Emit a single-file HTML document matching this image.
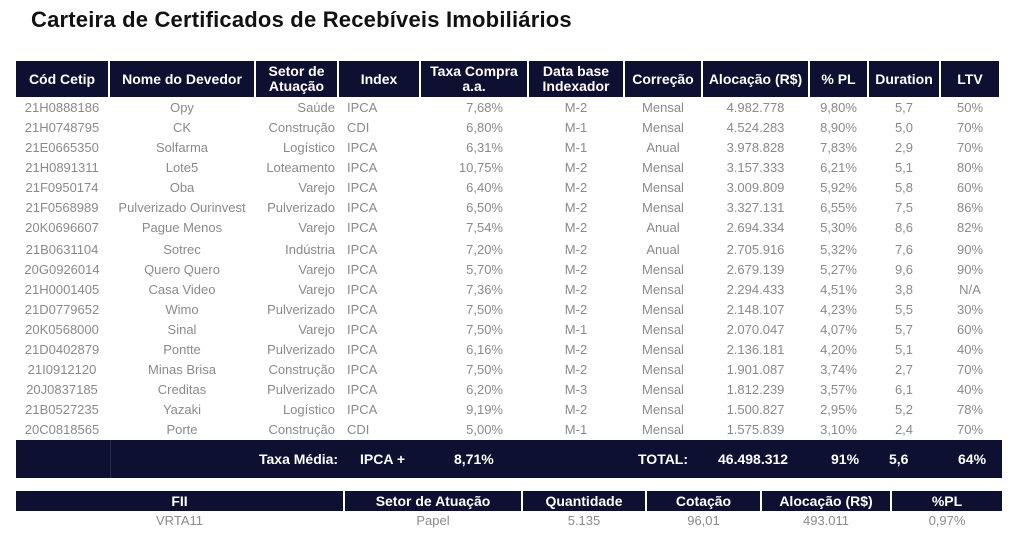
<!DOCTYPE html>
<html><head><meta charset="utf-8"><style>
body{margin:0;width:1024px;height:539px;background:#fff;font-family:"Liberation Sans",sans-serif;position:relative;overflow:hidden}
.t{position:absolute;left:31px;top:7px;font-size:22px;font-weight:bold;color:#111;letter-spacing:0.2px}
.h,.r,.tot{position:absolute;left:16px;display:flex}
.h div{background:#0d1030;color:#fff;font-weight:bold;font-size:14px;display:flex;align-items:center;justify-content:center;text-align:center;line-height:15px;margin-right:2px;box-sizing:border-box}
.r div{color:#8a8a8a;font-size:13px;text-align:center;margin-right:2px;height:20px;line-height:20px;white-space:nowrap;box-sizing:border-box}
.tot{background:#0d1030;top:440px;height:38px;width:986px}
.tot span{position:absolute;top:11px;color:#fff;font-weight:bold;font-size:14px}
</style></head><body>
<div class="t">Carteira de Certificados de Recebíveis Imobiliários</div>
<div id="main"></div>
<div class="tot">
<div style="position:absolute;left:94px;top:0;width:1px;height:38px;background:#2a2d4a"></div>
<span style="left:243px">Taxa Média:</span><span style="left:344px">IPCA +</span><span style="left:438px">8,71%</span>
<span style="left:622px">TOTAL:</span><span style="left:702px">46.498.312</span><span style="left:815px">91%</span><span style="left:873px">5,6</span><span style="left:942px">64%</span>
</div>
<div id="fii"></div>
<script>
const w=[92,144,81,80,106,94,76,105,57,70,58];
const heads=["Cód Cetip","Nome do Devedor","Setor de<br>Atuação","Index","Taxa Compra<br>a.a.","Data base<br>Indexador","Correção","Alocação (R$)","% PL","Duration","LTV"];
const rows=[
["21H0888186","Opy","Saúde","IPCA","7,68%","M-2","Mensal","4.982.778","9,80%","5,7","50%"],
["21H0748795","CK","Construção","CDI","6,80%","M-1","Mensal","4.524.283","8,90%","5,0","70%"],
["21E0665350","Solfarma","Logístico","IPCA","6,31%","M-1","Anual","3.978.828","7,83%","2,9","70%"],
["21H0891311","Lote5","Loteamento","IPCA","10,75%","M-2","Mensal","3.157.333","6,21%","5,1","80%"],
["21F0950174","Oba","Varejo","IPCA","6,40%","M-2","Mensal","3.009.809","5,92%","5,8","60%"],
["21F0568989","Pulverizado Ourinvest","Pulverizado","IPCA","6,50%","M-2","Mensal","3.327.131","6,55%","7,5","86%"],
["20K0696607","Pague Menos","Varejo","IPCA","7,54%","M-2","Anual","2.694.334","5,30%","8,6","82%"],
["21B0631104","Sotrec","Indústria","IPCA","7,20%","M-2","Anual","2.705.916","5,32%","7,6","90%"],
["20G0926014","Quero Quero","Varejo","IPCA","5,70%","M-2","Mensal","2.679.139","5,27%","9,6","90%"],
["21H0001405","Casa Video","Varejo","IPCA","7,36%","M-2","Mensal","2.294.433","4,51%","3,8","N/A"],
["21D0779652","Wimo","Pulverizado","IPCA","7,50%","M-2","Mensal","2.148.107","4,23%","5,5","30%"],
["20K0568000","Sinal","Varejo","IPCA","7,50%","M-1","Mensal","2.070.047","4,07%","5,7","60%"],
["21D0402879","Pontte","Pulverizado","IPCA","6,16%","M-2","Mensal","2.136.181","4,20%","5,1","40%"],
["21I0912120","Minas Brisa","Construção","IPCA","7,50%","M-2","Mensal","1.901.087","3,74%","2,7","70%"],
["20J0837185","Creditas","Pulverizado","IPCA","6,20%","M-3","Mensal","1.812.239","3,57%","6,1","40%"],
["21B0527235","Yazaki","Logístico","IPCA","9,19%","M-2","Mensal","1.500.827","2,95%","5,2","78%"],
["20C0818565","Porte","Construção","CDI","5,00%","M-1","Mensal","1.575.839","3,10%","2,4","70%"]];
const ys=[98,118,138,158,178,198,218,240,260,280,300,320,340,360,380,400,420];
function mk(parent,cls,top,widths,cells,h,name,aligns,pads){
 const r=document.createElement('div');r.className=cls;r.style.top=top+'px';
 
 
 cells.forEach((c,i)=>{const d=document.createElement('div');d.style.width=widths[i]+'px';if(h)d.style.height=h+'px';d.innerHTML=c;if(aligns&&aligns[i])d.style.textAlign=aligns[i];if(pads&&pads[i])d.style.padding=pads[i];
 
 
 r.appendChild(d);});
 parent.appendChild(r);}
const m=document.getElementById('main');
mk(m,'h',61,w,heads,36,'table-header');
rows.forEach((r,i)=>mk(m,'r',ys[i],w,r,0,'table-row',['center','center','right','left','right'],[null,null,'0 2px 0 0','0 0 0 8px','0 24px 0 0']));
const f=document.getElementById('fii');
const fw=[327,176,122,113,128,110];
mk(f,'h',491,fw,["FII","Setor de Atuação","Quantidade","Cotação","Alocação (R$)","%PL"],20,'fii-header');
mk(f,'r',511,fw,["VRTA11","Papel","5.135","96,01","493.011","0,97%"],0,'fii-row');
</script>
</body></html>
